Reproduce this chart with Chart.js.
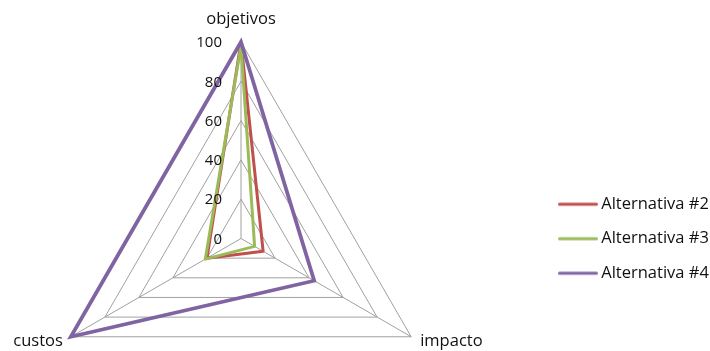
<!DOCTYPE html>
<html>
<head>
<meta charset="utf-8">
<script src="https://cdn.jsdelivr.net/npm/chart.js@4.4.1/dist/chart.umd.min.js"></script>
<style>
  html, body { margin: 0; padding: 0; background: #ffffff; }
  #wrap { width: 710px; height: 351px; position: relative; }
</style>
</head>
<body>
<div id="wrap"><canvas id="c" width="710" height="351"></canvas></div>
<script>
// ---- data ----
const categories = ['objetivos', 'impacto', 'custos'];
const seriesNames = ['Alternativa #2', 'Alternativa #3', 'Alternativa #4'];
const alt2 = [100, 13, 20];
const alt3 = [98, 8, 21];
const alt4 = [100, 43, 100];
const tickValues = [0, 20, 40, 60, 80, 100];
const tickLabels = ['0', '20', '40', '60', '80', '100'];

// ---- style ----
const colors = ['#C0504D', '#9BBB59', '#8064A2'];
const textColor = '#111111';
const gridColor = '#a0a0a0';
const FONT = '"Open Sans", "DejaVu Sans", sans-serif';

Chart.defaults.font.family = FONT;
Chart.defaults.color = textColor;

function lineSwatch(color) {
  const c = document.createElement('canvas');
  c.width = 40; c.height = 6;
  const g = c.getContext('2d');
  g.strokeStyle = color; g.lineWidth = 3; g.lineCap = 'round';
  g.beginPath(); g.moveTo(1.5, 3); g.lineTo(38.5, 3); g.stroke();
  return c;
}
const swatches = colors.map(lineSwatch);

const textPlugin = {
  id: 'radarText',
  afterDatasetsDraw(chart) {
    const s = chart.scales.r;
    const ctx = chart.ctx;
    ctx.save();
    ctx.fillStyle = textColor;
    // tick labels, to the left of the vertical axis
    ctx.font = '15px ' + FONT;
    ctx.textAlign = 'right';
    ctx.textBaseline = 'middle';
    tickValues.forEach((v, i) => {
      const y = s.yCenter - s.getDistanceFromCenterForValue(v);
      ctx.fillText(tickLabels[i], s.xCenter - 19, y + 1);
    });
    // point labels
    ctx.font = '16.5px ' + FONT;
    ctx.textBaseline = 'alphabetic';
    categories.forEach((c, i) => {
      const p = s.getPointPosition(i, s.drawingArea);
      const dx = p.x - s.xCenter;
      if (Math.abs(dx) < 1) {
        ctx.textAlign = 'center';
        ctx.fillText(c, p.x, p.y - 18);
      } else if (dx > 0) {
        ctx.textAlign = 'left';
        ctx.fillText(c, p.x + 9, p.y + 9);
      } else {
        ctx.textAlign = 'right';
        ctx.fillText(c, p.x - 8, p.y + 9);
      }
    });
    ctx.restore();
  }
};

const legendPlace = {
  id: 'legendPlace',
  afterLayout(chart) {
    const lg = chart.legend;
    const pad = lg.options.labels.padding;
    const w = lg.width;
    lg.left = 563 - pad;
    lg.right = lg.left + w;
    lg.top = 196 - pad;
  }
};

const dataSets = [alt2, alt3, alt4];
new Chart(document.getElementById('c'), {
  type: 'radar',
  data: {
    labels: categories,
    datasets: dataSets.map((d, i) => ({
      label: seriesNames[i],
      data: d,
      borderColor: colors[i],
      backgroundColor: colors[i],
      borderWidth: i === 2 ? 3.75 : 3,
      borderJoinStyle: i === 2 ? 'miter' : 'round',
      pointRadius: 0,
      pointHoverRadius: 0,
      fill: false,
      tension: 0,
      order: 3 - i,
      clip: false
    }))
  },
  plugins: [textPlugin, legendPlace],
  options: {
    responsive: false,
    animation: false,
    layout: { padding: 0 },
    scales: {
      r: {
        min: 0,
        max: 100,
        ticks: { stepSize: 20, display: false },
        pointLabels: { display: false },
        grid: { color: gridColor, lineWidth: 1 },
        angleLines: { color: gridColor, lineWidth: 1 },
        afterFit(scale) {
          scale.xCenter = 241;
          scale.yCenter = 238.5;
          scale.drawingArea = 196.5;
        }
      }
    },
    plugins: {
      tooltip: { enabled: false },
      legend: {
        position: 'right',
        align: 'start',
        labels: {
          color: textColor,
          font: { size: 16.5, family: FONT },
          padding: 18,
          usePointStyle: true,
          pointStyleWidth: 30,
          sort: (a, b) => a.datasetIndex - b.datasetIndex,
          generateLabels(chart) {
            const items = Chart.defaults.plugins.legend.labels.generateLabels(chart);
            items.forEach(it => { it.pointStyle = swatches[it.datasetIndex]; });
            return items;
          }
        }
      }
    }
  }
});
</script>
</body>
</html>
